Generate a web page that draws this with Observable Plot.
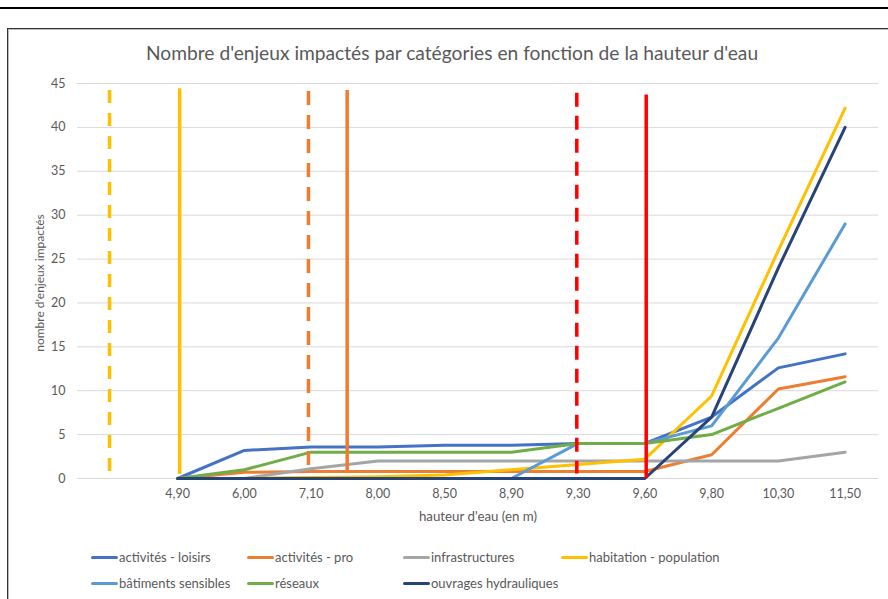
<!DOCTYPE html>
<html><head><meta charset="utf-8">
<script src="https://cdn.jsdelivr.net/npm/d3@7"></script>
<script src="https://cdn.jsdelivr.net/npm/@observablehq/plot@0.6"></script>
<style>
body{margin:0;background:#fff;}
#page{position:relative;width:888px;height:599px;overflow:hidden;font-family:Lato, "Open Sans", sans-serif;color:#595959;}
#topline{position:absolute;left:0;top:7px;width:888px;height:2px;background:#000;}
#frame{position:absolute;left:7px;top:28px;width:900px;height:600px;border:1px solid #333;box-shadow:inset 0 0 0 1px #bbb;}
#chart{position:absolute;left:0;top:0;}
#title{position:absolute;left:146px;top:41px;font-size:19.2px;white-space:nowrap;}
.leg{position:absolute;font-size:13px;white-space:nowrap;line-height:16px;}
.leg span.sw{display:inline-block;width:27px;height:3px;border-radius:1.5px;vertical-align:middle;margin-right:1px;position:relative;top:-1px;}
</style></head><body>
<div id="page">
  <div id="topline"></div>
  <div id="frame"></div>
  <div id="chart"></div>
  <div id="title">Nombre d'enjeux impactés par catégories en fonction de la hauteur d'eau</div>
  <div id="legend"></div>
</div>
<script>
// Catégories de l'axe X (la première est vide)
const hauteurs = ["", "4,90", "6,00", "7,10", "8,00", "8,50", "8,90", "9,30", "9,60", "9,80", "10,30", "11,50"];
// Séries (valeurs pour 4,90 ... 11,50)
const series = ["activités - loisirs", "activités - pro", "infrastructures", "habitation - population", "bâtiments sensibles", "réseaux", "ouvrages hydrauliques"];
const loisirs    = [0, 3.2, 3.6, 3.6, 3.8, 3.8, 4, 4, 7, 12.6, 14.2];
const pro        = [0, 0.7, 0.8, 0.8, 0.8, 0.8, 0.8, 0.8, 2.7, 10.2, 11.6];
const infra      = [0, 0, 1.1, 2, 2, 2, 2, 2, 2, 2, 3];
const habitation = [0, 0, 0.1, 0.2, 0.4, 1.0, 1.6, 2.2, 9.4, 26, 42.2];
const batiments  = [0, 0, 0, 0, 0, 0, 4, 4, 6, 16, 29];
const reseaux    = [0, 1, 3, 3, 3, 3, 4, 4, 5, 8, 11];
const ouvrages   = [0, 0, 0, 0, 0, 0, 0, 0, 7, 24, 40];
// Repères verticaux (position en index de catégorie, bas, haut)
const repereX    = [-0.02, 1.03, 2.96, 3.54, 6.98, 8.02];
const repereBas  = [0.7, 0.45, 0.9, 0.8, 0.5, 0];
const repereHaut = [44.2, 44.4, 44.1, 44.2, 43.9, 43.7];
const yTicks = [0, 5, 10, 15, 20, 25, 30, 35, 40, 45];

// Styles
const couleurs = ["#4472C4", "#ED7D31", "#A5A5A5", "#FFC000", "#5B9BD5", "#70AD47", "#264478"];
const repereStyles = [
  {stroke: "#FFC000", dash: "13,10"},
  {stroke: "#FFC000", dash: null},
  {stroke: "#ED7D31", dash: "14,10"},
  {stroke: "#ED7D31", dash: null},
  {stroke: "#FF0000", dash: "14,9"},
  {stroke: "#FF0000", dash: null}
];

const valeurs = [loisirs, pro, infra, habitation, batiments, reseaux, ouvrages];
const rows = [];
series.forEach((s, k) => valeurs[k].forEach((v, j) => rows.push({serie: s, i: j + 1, v})));
const reperes = repereX.map((x, k) => ({x, y1: repereHaut[k], y2: repereBas[k]}));

const font = "Lato, 'Open Sans', sans-serif";
const chart = Plot.plot({
  width: 888, height: 530,
  marginLeft: 77, marginRight: 10, marginTop: 83, marginBottom: 52,
  x: {type: "linear", domain: [-0.5, 11.5], axis: null},
  y: {domain: [0, 45], axis: null},
  color: {domain: series, range: couleurs},
  style: {fontFamily: font, fontSize: "12px", color: "#595959", background: "transparent"},
  marks: [
    Plot.gridY(yTicks, {stroke: "#d9d9d9", strokeOpacity: 1, strokeWidth: 1}),
    Plot.axisY(yTicks, {tickSize: 0, tickPadding: 12, label: null, fill: "#595959", fontSize: 12.5}),
    Plot.axisX(d3.range(1, 12), {tickSize: 0, tickPadding: 11, tickFormat: i => hauteurs[i], label: null, fill: "#595959", fontSize: 12.5}),
    Plot.line(rows, {x: "i", y: "v", z: "serie", stroke: "serie", strokeWidth: 3, strokeLinejoin: "round", strokeLinecap: "round"}),
    ...reperes.map((r, k) => Plot.ruleX([r], {x: "x", y1: "y1", y2: "y2", stroke: repereStyles[k].stroke, strokeWidth: 3.5, strokeDasharray: repereStyles[k].dash})),
    Plot.text(["nombre d'enjeux impactés"], {frameAnchor: "left", dx: -37, dy: 2, rotate: -90, textAnchor: "middle", fill: "#595959", fontSize: 12, text: d => d}),
    Plot.text(["hauteur d'eau (en m)"], {frameAnchor: "bottom", dy: 38, lineAnchor: "middle", fill: "#595959", fontSize: 13.3, text: d => d})
  ]
});
document.getElementById("chart").appendChild(chart);

// Légende
const legCols = [91, 247, 403, 561];
const legRows = [549, 575];
const legend = document.getElementById("legend");
series.forEach((s, k) => {
  const d = document.createElement("div");
  d.className = "leg";
  d.style.left = legCols[k % 4] + "px";
  d.style.top = legRows[Math.floor(k / 4)] + "px";
  d.innerHTML = `<span class="sw" style="background:${couleurs[k]}"></span>${s}`;
  legend.appendChild(d);
});
</script>
</body></html>
